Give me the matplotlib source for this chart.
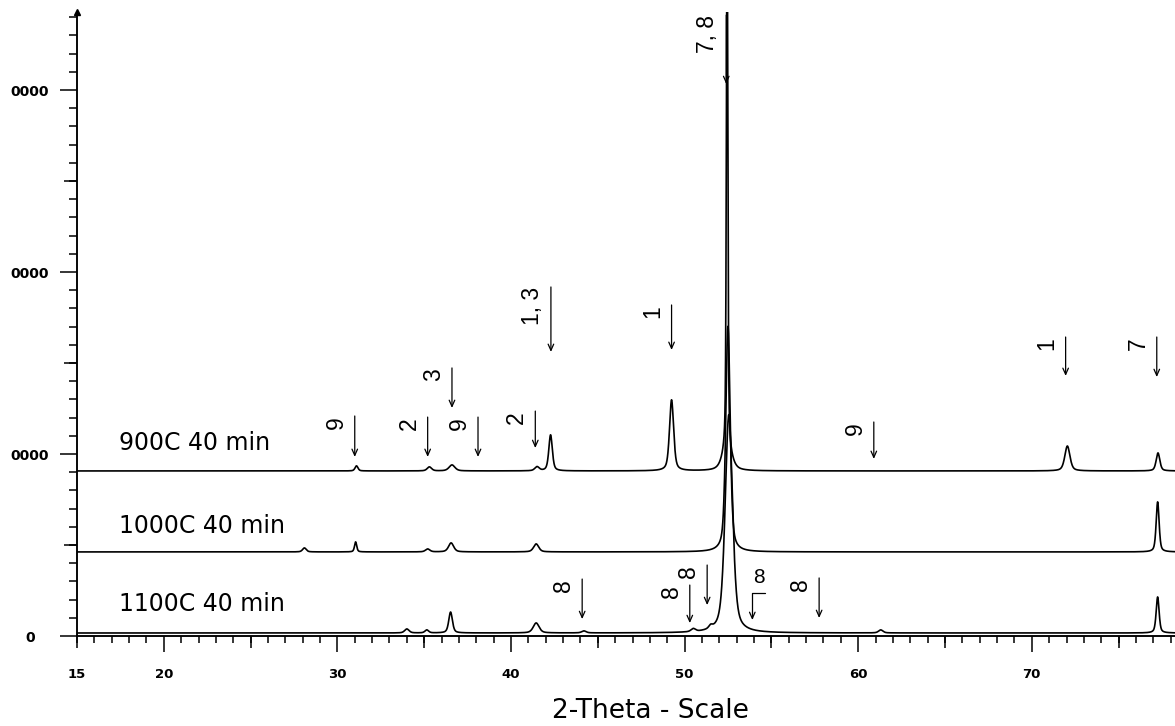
import numpy as np
import matplotlib
matplotlib.use("Agg")
import matplotlib.pyplot as plt
from matplotlib.ticker import MultipleLocator, NullFormatter

# ---- data ---------------------------------------------------------------
two_theta_range = (15.0, 78.25)
y_top = 34290

sample_labels = ["900C 40 min", "1000C 40 min", "1100C 40 min"]
sample_label_pos = [(17.4, 10600), (17.4, 6045), (17.4, 1760)]
baselines = [9070, 4620, 165]

# peaks per scan: (2-theta, height above baseline, fwhm)
peaks_900 = [(31.1, 280, 0.20), (35.3, 220, 0.30), (36.6, 330, 0.40),
             (41.5, 220, 0.30), (42.28, 1980, 0.24), (49.25, 3900, 0.28),
             (52.45, 1100, 0.60), (52.45, 30000, 0.10),
             (72.05, 1370, 0.35), (77.27, 990, 0.25)]
peaks_1000 = [(28.1, 220, 0.25), (31.05, 550, 0.15), (35.2, 160, 0.3),
              (36.55, 495, 0.35), (41.45, 440, 0.35),
              (52.5, 12400, 0.30), (77.25, 2750, 0.20)]
peaks_1100 = [(34.0, 220, 0.30), (35.15, 165, 0.25), (36.52, 1150, 0.25),
              (41.45, 550, 0.40), (44.2, 110, 0.3), (50.5, 165, 0.3),
              (51.5, 165, 0.25), (52.55, 12000, 0.50), (61.3, 165, 0.3),
              (77.25, 1980, 0.20)]
scan_peaks = [peaks_900, peaks_1000, peaks_1100]

# phase markers: (label, 2-theta, arrow top, arrow tip)
arrows = [("9", 31.0, 12090, 9840), ("2", 35.2, 12030, 9840),
          ("3", 36.6, 14730, 12530), ("9", 38.1, 12030, 9840),
          ("2", 41.4, 12360, 10330), ("1, 3", 42.3, 19180, 15610),
          ("1", 49.25, 18190, 15720), ("7, 8", 52.4, 34120, 30330),
          ("9", 60.9, 11760, 9730), ("1", 71.95, 16430, 14290),
          ("7", 77.2, 16430, 14230),
          ("8", 44.1, 3130, 930), ("8", 50.3, 2800, 710),
          ("8", 51.3, 3900, 1700), ("8", 57.75, 3190, 990)]
# the bent marker near 54 deg: (label, 2-theta, corner end, top, tip)
bent_arrow = ("8", 53.9, 54.65, 2360, 880)

y_ticks = [0, 10000, 20000, 30000]
y_ticklabels = ["0", "0000", "0000", "0000"]
x_ticks = [20, 30, 40, 50, 60, 70]
x_mid_ticks = [15, 25, 35, 45, 55, 65, 75]


def profile(x, peaks):
    y = np.zeros_like(x)
    for pos, h, w in peaks:
        g = np.exp(-4 * np.log(2) * ((x - pos) / w) ** 2)
        lor = 1.0 / (1.0 + 4 * ((x - pos) / w) ** 2)
        y += h * (0.5 * g + 0.5 * lor)
    return y


fig = plt.figure(figsize=(11.75, 7.26), dpi=100)
ax = fig.add_axes([77 / 1175, 90 / 726, 1 - 77 / 1175, 624 / 726])

x = np.arange(two_theta_range[0], two_theta_range[1], 0.01)
for peaks, base in zip(scan_peaks, baselines):
    ax.plot(x, base + profile(x, peaks), color="black", lw=1.2)

for text, (tx, ty) in zip(sample_labels, sample_label_pos):
    ax.text(tx, ty, text, fontsize=17, ha="left", va="center",
            family="DejaVu Sans")

arrow_style = "->,head_length=0.45,head_width=0.2"
for text, xa, y0, y1 in arrows:
    ax.annotate("", xy=(xa, y1), xytext=(xa, y0),
                arrowprops=dict(arrowstyle=arrow_style, lw=0.9, color="black",
                                shrinkA=0, shrinkB=0))
    ax.annotate(text, xy=(xa, y0), xytext=(-5, 0), textcoords="offset points",
                rotation=90, ha="right", va="top", fontsize=16.5,
                family="Liberation Sans")

text, xa, xend, y0, y1 = bent_arrow
ax.annotate("", xy=(xa, y1), xytext=(xend, y0),
            arrowprops=dict(arrowstyle=arrow_style, lw=0.9, color="black",
                            shrinkA=0, shrinkB=0,
                            connectionstyle="angle,angleA=0,angleB=90,rad=0"))
ax.annotate(text, xy=((xa + xend) / 2, y0), xytext=(0, 4),
            textcoords="offset points", ha="center", va="bottom",
            fontsize=15, family="Liberation Sans")

# ---- axes styling ---------------------------------------------------------
ax.set_xlim(*two_theta_range)
ax.set_ylim(0, y_top)
for side in ("top", "right"):
    ax.spines[side].set_visible(False)
for side in ("left", "bottom"):
    ax.spines[side].set_linewidth(1.1)

ax.set_xticks(x_ticks)
ax.xaxis.set_minor_locator(MultipleLocator(1))
ax.tick_params(axis="x", which="major", length=11.5, width=1.1, pad=11.5,
               labelsize=9.5)
ax.tick_params(axis="x", which="minor", length=5, width=1.1)

sec_x = ax.secondary_xaxis("bottom")
sec_x.set_xticks(x_mid_ticks, ["15"] + [""] * (len(x_mid_ticks) - 1))
sec_x.tick_params(length=8.5, width=1.1, pad=14.5, labelsize=9.5)
sec_x.spines["bottom"].set_linewidth(1.1)

ax.set_yticks(y_ticks, y_ticklabels)
ax.yaxis.set_minor_locator(MultipleLocator(1000))
ax.tick_params(axis="y", which="major", length=12.2, width=1.1, pad=21.6,
               labelsize=10)
ax.tick_params(axis="y", which="minor", length=5.8, width=1.1)
for lab in ax.get_yticklabels():
    lab.set_horizontalalignment("center")

sec_y = ax.secondary_yaxis("left")
sec_y.set_yticks([5000, 15000, 25000])
sec_y.yaxis.set_major_formatter(NullFormatter())
sec_y.tick_params(length=9.4, width=1.1)
sec_y.spines["left"].set_linewidth(1.1)

for lab in ax.get_xticklabels() + ax.get_yticklabels() + sec_x.get_xticklabels():
    lab.set_fontweight("bold")

ax.plot(0, 1, marker="^", color="black", markersize=5,
        transform=ax.transAxes, clip_on=False)

ax.set_xlabel("2-Theta - Scale", fontsize=19, family="DejaVu Sans",
              va="center")
ax.xaxis.set_label_coords((650 - 77) / 1098, -(711 - 636) / 624)

fig.savefig("out.png", dpi=100)
